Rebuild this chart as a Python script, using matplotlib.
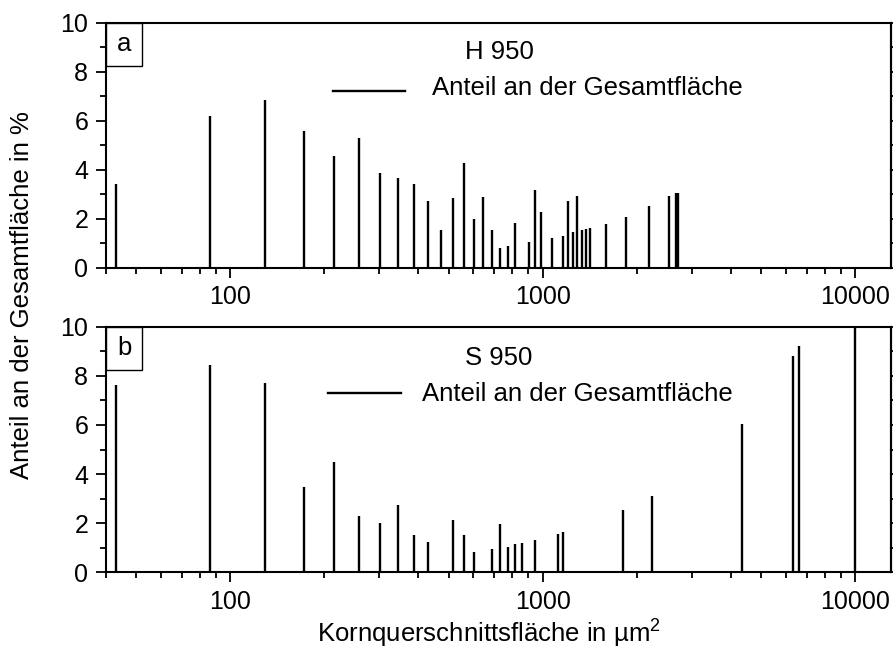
import matplotlib
matplotlib.use('Agg')
import matplotlib.pyplot as plt
from matplotlib.patches import Rectangle
from matplotlib.ticker import LogLocator, NullFormatter, MultipleLocator

plt.rcParams['font.family'] = ['Liberation Sans', 'DejaVu Sans']
plt.rcParams['mathtext.default'] = 'regular'

# Kornklassen (Mitte) und Flaechenanteil in %
h950_x = [43, 86, 129, 172, 215, 258, 301, 344, 387, 430, 473, 516, 559,
          602, 645, 688, 731, 774, 817, 903, 946, 989, 1075, 1161, 1204,
          1247, 1290, 1333, 1376, 1419, 1591, 1849, 2193, 2537, 2666, 2709]
h950_y = [3.41, 6.20, 6.83, 5.59, 4.56, 5.31, 3.86, 3.66, 3.40, 2.73, 1.52,
          2.86, 4.27, 2.00, 2.90, 1.54, 0.80, 0.88, 1.81, 1.03, 3.17, 2.26,
          1.22, 1.31, 2.73, 1.44, 2.93, 1.54, 1.58, 1.63, 1.80, 2.08, 2.50,
          2.93, 3.06, 3.06]

s950_x = [43, 86, 129, 172, 215, 258, 301, 344, 387, 430, 516, 559, 602,
          688, 731, 774, 817, 860, 946, 1118, 1161, 1806, 2236, 4343, 6321,
          6622, 10000]
s950_y = [7.63, 8.45, 7.71, 3.49, 4.49, 2.29, 2.01, 2.74, 1.52, 1.22, 2.12,
          1.52, 0.83, 0.94, 1.98, 1.04, 1.14, 1.18, 1.32, 1.55, 1.63, 2.55,
          3.11, 6.05, 8.82, 9.23, 10.0]

panels = [
    ('a', 'H 950', h950_x, h950_y, [0.5882, 0.3769],
     (0.2894, 0.3813, 0.7224), (0.4153, 0.7335), 0.880),
    ('b', 'S 950', s950_x, s950_y, [0.1195, 0.3778],
     (0.2832, 0.3758, 0.7313), (0.4025, 0.725), 0.8726),
]

fs = 18.5
fig = plt.figure(figsize=(8.93, 6.5), dpi=100)

for letter, name, xs, ys, (bot, hgt), leg_line, leg_txt, name_y in panels:
    ax = fig.add_axes([0.1184, bot, 0.879, hgt])
    ax.vlines(xs, 0, ys, colors='k', lw=1.7)
    ax.set_xscale('log')
    ax.set_xlim(40, 13000)
    ax.set_ylim(0, 10)

    ax.set_xticks([100, 1000, 10000], labels=['100', '1000', '10000'])
    ax.xaxis.set_minor_locator(LogLocator(base=10, subs=range(2, 10)))
    ax.xaxis.set_minor_formatter(NullFormatter())
    ax.yaxis.set_major_locator(MultipleLocator(2))
    ax.yaxis.set_minor_locator(MultipleLocator(1))

    for s in ax.spines.values():
        s.set_linewidth(1.5)
    ax.tick_params(which='major', direction='out', length=7.5, width=1.3,
                   labelsize=18, pad=5)
    ax.tick_params(which='minor', direction='out', length=4.5, width=1.3)

    # kleine Striche rechts
    sec = ax.secondary_yaxis('right')
    sec.set_yticks(range(0, 11))
    sec.set_yticklabels([])
    sec.tick_params(length=3, width=1.3, direction='out')
    sec.spines['right'].set_linewidth(1.5)

    # Buchstabe in Kasten
    ax.add_patch(Rectangle((0, 0.8245), 0.0466, 0.1755, transform=ax.transAxes,
                           facecolor='white', edgecolor='k', lw=1.0,
                           zorder=5, clip_on=False))
    ax.text(0.0233, 0.912, letter, transform=ax.transAxes, ha='center',
            va='center', fontsize=fs, zorder=6)

    ax.text(0.4577, name_y, name, transform=ax.transAxes, ha='left',
            va='center', fontsize=fs)
    ax.plot([leg_line[0], leg_line[1]], [leg_line[2], leg_line[2]], color='k',
            lw=1.7, transform=ax.transAxes)
    ax.text(leg_txt[0], leg_txt[1], 'Anteil an der Gesamtfläche',
            transform=ax.transAxes, ha='left', va='center', fontsize=fs)

fig.text(0.025, 0.546, 'Anteil an der Gesamtfläche in %', rotation=90,
         ha='center', va='center', fontsize=fs)
fig.text(0.548, 0.025, 'Kornquerschnittsfläche in µm$^2$', ha='center',
         va='center', fontsize=fs)

fig.savefig('out.png', dpi=100)
